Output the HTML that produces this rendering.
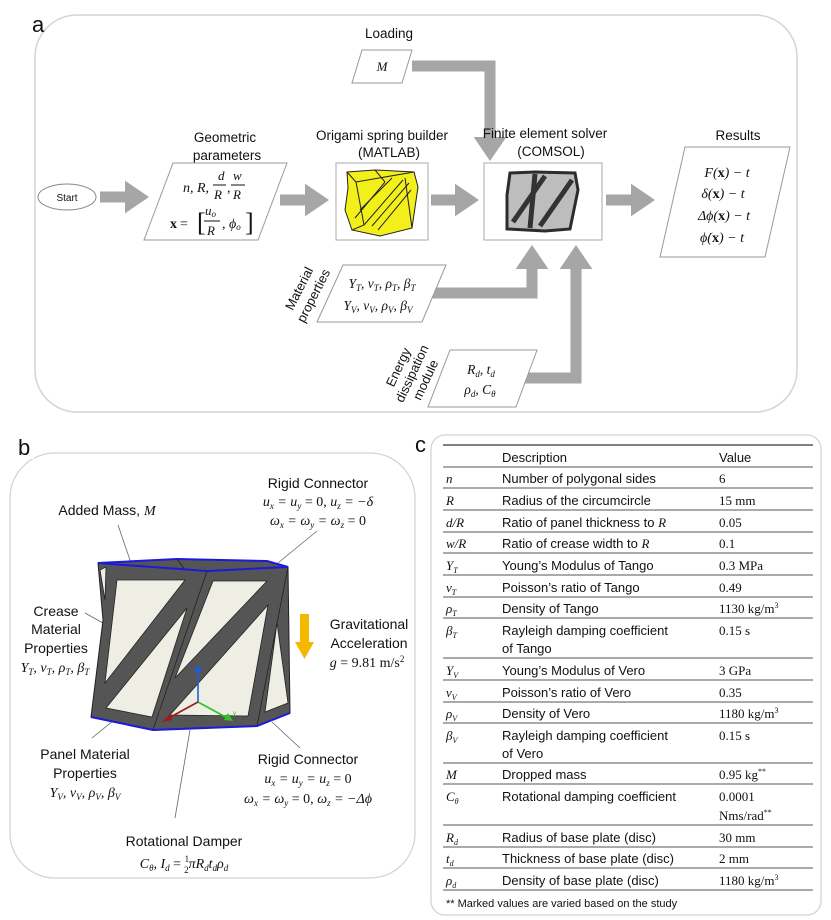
<!DOCTYPE html>
<html><head><meta charset="utf-8"><style>
html,body{margin:0;padding:0;background:#fff}
svg{display:block}
.s{font-family:"Liberation Sans",sans-serif;fill:#111}
.m{font-family:"Liberation Serif",serif;font-style:italic;fill:#111}
.r{font-family:"Liberation Serif",serif;fill:#111}
</style></head><body>
<svg width="831" height="920" viewBox="0 0 831 920" xmlns="http://www.w3.org/2000/svg">
<defs>
<marker id="ah" markerWidth="3" markerHeight="3" refX="1.2" refY="1.5" orient="auto" markerUnits="strokeWidth"><path d="M0,0 L2.2,1.5 L0,3 z" fill="#a6a6a6"/></marker>
</defs>
<!-- Panel a -->
<rect x="35" y="15" width="762" height="397" rx="42" fill="#fff" stroke="#d4d4d4" stroke-width="1.5"/>
<text x="32" y="32" class="s" font-size="22">a</text>
<g stroke="#a6a6a6" stroke-width="11" fill="none">
<line x1="100" y1="197" x2="138" y2="197" marker-end="url(#ah)"/>
<line x1="280" y1="200" x2="318" y2="200" marker-end="url(#ah)"/>
<line x1="431" y1="200" x2="468" y2="200" marker-end="url(#ah)"/>
<line x1="606" y1="200" x2="644" y2="200" marker-end="url(#ah)"/>
<polyline points="412,66 490,66 490,150" marker-end="url(#ah)"/>
<polyline points="424,293 532,293 532,256" marker-end="url(#ah)"/>
<polyline points="520,378 576,378 576,256" marker-end="url(#ah)"/>
</g>
<ellipse cx="67" cy="197" rx="29" ry="13" fill="#fff" stroke="#888"/>
<text x="67" y="201" class="s" font-size="10" text-anchor="middle">Start</text>
<!-- geometric -->
<text x="225" y="142" class="s" font-size="13.5" text-anchor="middle">Geometric</text>
<text x="227" y="160" class="s" font-size="13.5" text-anchor="middle">parameters</text>
<polygon points="173,163 287,163 258,240 144,240" fill="#fff" stroke="#999"/>
<text x="183" y="192" class="m" font-size="14">n, R,</text>
<text x="218" y="180" class="m" font-size="13">d</text><line x1="213" y1="185" x2="226" y2="185" stroke="#111"/><text x="214" y="199" class="m" font-size="13">R</text>
<text x="227" y="192" class="m" font-size="14">,</text>
<text x="233" y="180" class="m" font-size="13">w</text><line x1="231" y1="185" x2="245" y2="185" stroke="#111"/><text x="233" y="199" class="m" font-size="13">R</text>
<text x="170" y="228" class="r" font-size="14" font-weight="bold">x</text><text x="180" y="228" class="r" font-size="14">=</text>
<text x="197" y="231" class="r" font-size="26">[</text>
<text x="205" y="215" class="m" font-size="13">u<tspan font-size="9" dy="2">o</tspan></text>
<line x1="204" y1="221" x2="220" y2="221" stroke="#111"/><text x="207" y="235" class="m" font-size="13">R</text>
<text x="222" y="228" class="m" font-size="14">, ϕ<tspan font-size="9" dy="2">o</tspan></text>
<text x="245" y="231" class="r" font-size="26">]</text>
<!-- origami -->
<text x="382" y="140" class="s" font-size="13.5" text-anchor="middle">Origami spring builder</text>
<text x="389" y="157" class="s" font-size="13.5" text-anchor="middle">(MATLAB)</text>
<rect x="336" y="163" width="92" height="77" fill="#fff" stroke="#aaa"/>
<polygon points="347,172 375,170 414,172 418,187 412,228 380,236 352,230 345,210 348,188" fill="#f2ef1a" stroke="#222" stroke-width="1"/>
<g stroke="#222" stroke-width="1" fill="none">
<polyline points="347,172 356,182 364,225 352,230"/>
<line x1="356" y1="182" x2="414" y2="172"/><line x1="364" y1="225" x2="403" y2="180"/><line x1="372" y1="226" x2="409" y2="183"/>
<line x1="378" y1="230" x2="411" y2="190"/><line x1="355" y1="218" x2="385" y2="182"/><line x1="360" y1="210" x2="392" y2="178"/>
<line x1="375" y1="170" x2="385" y2="182"/><line x1="405" y1="178" x2="412" y2="228"/>
</g>
<!-- FE -->
<text x="545" y="138" class="s" font-size="13.5" text-anchor="middle">Finite element solver</text>
<text x="551" y="156" class="s" font-size="13.5" text-anchor="middle">(COMSOL)</text>
<rect x="484" y="163" width="118" height="77" fill="#fff" stroke="#aaa"/>
<polygon points="510,173 535,172 575,173 578,190 570,229 545,231 507,229 507,195" fill="#bdbdbd" stroke="#2c2c2c" stroke-width="3"/>
<g stroke="#333" stroke-width="5"><line x1="513" y1="222" x2="545" y2="176"/><line x1="540" y1="226" x2="572" y2="180"/><line x1="535" y1="174" x2="530" y2="228"/></g>
<!-- loading -->
<text x="389" y="38" class="s" font-size="13.5" text-anchor="middle">Loading</text>
<polygon points="362,50 412,50 402,83 352,83" fill="#fff" stroke="#999"/>
<text x="382" y="71" class="m" font-size="13" text-anchor="middle">M</text>
<!-- results -->
<text x="738" y="140" class="s" font-size="13.5" text-anchor="middle">Results</text>
<polygon points="685,147 790,147 765,257 660,257" fill="#fff" stroke="#999"/>
<g class="m" font-size="14" text-anchor="middle">
<text x="727" y="177">F(<tspan font-style="normal" font-weight="bold">x</tspan>) − t</text>
<text x="723" y="198">δ(<tspan font-style="normal" font-weight="bold">x</tspan>) − t</text>
<text x="724" y="220">Δϕ(<tspan font-style="normal" font-weight="bold">x</tspan>) − t</text>
<text x="722" y="242">ϕ̇(<tspan font-style="normal" font-weight="bold">x</tspan>) − t</text>
</g>
<!-- material -->
<polygon points="343,265 446,265 422,322 317,322" fill="#fff" stroke="#999"/>
<text x="382" y="288" class="m" font-size="13.5" text-anchor="middle">Y<tspan font-size="9" dy="3">T</tspan><tspan dy="-3">, ν</tspan><tspan font-size="9" dy="3">T</tspan><tspan dy="-3">, ρ</tspan><tspan font-size="9" dy="3">T</tspan><tspan dy="-3">, β</tspan><tspan font-size="9" dy="3">T</tspan></text>
<text x="378" y="310" class="m" font-size="13.5" text-anchor="middle">Y<tspan font-size="9" dy="3">V</tspan><tspan dy="-3">, ν</tspan><tspan font-size="9" dy="3">V</tspan><tspan dy="-3">, ρ</tspan><tspan font-size="9" dy="3">V</tspan><tspan dy="-3">, β</tspan><tspan font-size="9" dy="3">V</tspan></text>
<g transform="translate(312,295) rotate(-63)" class="s" font-size="13" text-anchor="middle"><text x="0" y="-10">Material</text><text x="0" y="6">properties</text></g>
<!-- energy -->
<polygon points="450,350 537,350 516,407 428,407" fill="#fff" stroke="#999"/>
<text x="481" y="374" class="m" font-size="13.5" text-anchor="middle">R<tspan font-size="9" dy="3">d</tspan><tspan dy="-3">, t</tspan><tspan font-size="9" dy="3">d</tspan></text>
<text x="480" y="394" class="m" font-size="13.5" text-anchor="middle">ρ<tspan font-size="9" dy="3">d</tspan><tspan dy="-3">, C</tspan><tspan font-size="9" dy="3">θ</tspan></text>
<g transform="translate(415,375) rotate(-65)" class="s" font-size="13" text-anchor="middle"><text x="0" y="-14">Energy</text><text x="0" y="1">dissipation</text><text x="0" y="16">module</text></g>

<!-- Panel b -->
<rect x="10" y="453" width="405" height="425" rx="45" fill="#fff" stroke="#d4d4d4" stroke-width="1.3"/>
<rect x="16" y="445" width="18" height="14" fill="#fff"/>
<text x="18" y="455" class="s" font-size="22">b</text>
<g stroke="#666" stroke-width="0.8">
<line x1="118" y1="525" x2="131" y2="563"/><line x1="317" y1="531" x2="278" y2="563"/>
<line x1="85" y1="613" x2="103" y2="623"/><line x1="92" y1="738" x2="135" y2="703"/>
<line x1="175" y1="818" x2="190" y2="730"/><line x1="300" y1="748" x2="272" y2="722"/>
</g>
<polygon points="98,563 177,559 267,561 288,567 290,713 257,726 153,730 91,717 103,620" fill="#555" stroke="#222"/>
<g fill="#eeeee4" stroke="#222" stroke-width="0.8">
<polygon points="117,580 185,580 105,683"/>
<polygon points="187,608 152,717 106,708"/>
<polygon points="213,581 267,581 175,678"/>
<polygon points="268,605 248,716 170,715"/>
<polygon points="277,623 288,703 265,712"/>
<polygon points="100,570 106,567 105,600"/>
</g>
<g stroke="#222" stroke-width="0.8" fill="none"><line x1="207" y1="571" x2="153" y2="730"/><line x1="288" y1="567" x2="257" y2="726"/><line x1="177" y1="559" x2="185" y2="570"/></g>
<polyline points="98,563 177,559 267,561 288,567 207,571 98,563" fill="none" stroke="#1a1adc" stroke-width="2"/>
<polyline points="91,717 153,730 257,726 290,713" fill="none" stroke="#1a1adc" stroke-width="2"/>
<g stroke-width="1.6"><line x1="198" y1="702" x2="198" y2="668" stroke="#1f5fcf"/><line x1="198" y1="702" x2="231" y2="720" stroke="#2bc42b"/><line x1="198" y1="702" x2="165" y2="720" stroke="#a01818"/></g>
<polygon points="198,664 194,672 202,672" fill="#1f5fcf"/><polygon points="233,721 224,720 228,713" fill="#2bc42b"/><polygon points="162,722 170,714 172,720" fill="#a01818"/>
<text x="188" y="666" font-size="6" fill="#1f5fcf" font-family="Liberation Sans">z</text><text x="233" y="715" font-size="6" fill="#2bc42b" font-family="Liberation Sans">y</text><text x="159" y="714" font-size="6" fill="#c33" font-family="Liberation Sans">x</text>
<rect x="300" y="614" width="9" height="30" fill="#f5b800"/><polygon points="295,642 314,642 304.5,659" fill="#f5b800"/>
<g class="s" font-size="14" text-anchor="middle">
<text x="107" y="515">Added Mass, <tspan font-family="Liberation Serif" font-style="italic">M</tspan></text>
<text x="318" y="488">Rigid Connector</text>
<text x="56" y="616">Crease</text><text x="56" y="634">Material</text><text x="56" y="653">Properties</text>
<text x="369" y="629">Gravitational</text><text x="369" y="648">Acceleration</text>
<text x="85" y="759">Panel Material</text><text x="85" y="778">Properties</text>
<text x="308" y="764">Rigid Connector</text>
<text x="184" y="846">Rotational Damper</text>
</g>
<g class="m" font-size="14" text-anchor="middle">
<text x="318" y="506">u<tspan font-size="9" dy="3">x</tspan><tspan dy="-3"> = u</tspan><tspan font-size="9" dy="3">y</tspan><tspan dy="-3" font-style="normal"> = 0, </tspan><tspan>u</tspan><tspan font-size="9" dy="3">z</tspan><tspan dy="-3"> = −δ</tspan></text>
<text x="318" y="525">ω<tspan font-size="9" dy="3">x</tspan><tspan dy="-3"> = ω</tspan><tspan font-size="9" dy="3">y</tspan><tspan dy="-3"> = ω</tspan><tspan font-size="9" dy="3">z</tspan><tspan dy="-3" font-style="normal"> = 0</tspan></text>
<text x="55" y="672">Y<tspan font-size="9" dy="3">T</tspan><tspan dy="-3">, ν</tspan><tspan font-size="9" dy="3">T</tspan><tspan dy="-3">, ρ</tspan><tspan font-size="9" dy="3">T</tspan><tspan dy="-3">, β</tspan><tspan font-size="9" dy="3">T</tspan></text>
<text x="367" y="667">g <tspan font-style="normal">= 9.81 m/s</tspan><tspan font-style="normal" font-size="9" dy="-5">2</tspan></text>
<text x="85" y="797">Y<tspan font-size="9" dy="3">V</tspan><tspan dy="-3">, ν</tspan><tspan font-size="9" dy="3">V</tspan><tspan dy="-3">, ρ</tspan><tspan font-size="9" dy="3">V</tspan><tspan dy="-3">, β</tspan><tspan font-size="9" dy="3">V</tspan></text>
<text x="308" y="783">u<tspan font-size="9" dy="3">x</tspan><tspan dy="-3"> = u</tspan><tspan font-size="9" dy="3">y</tspan><tspan dy="-3"> = u</tspan><tspan font-size="9" dy="3">z</tspan><tspan dy="-3" font-style="normal"> = 0</tspan></text>
<text x="308" y="803">ω<tspan font-size="9" dy="3">x</tspan><tspan dy="-3"> = ω</tspan><tspan font-size="9" dy="3">y</tspan><tspan dy="-3" font-style="normal"> = 0, </tspan><tspan>ω</tspan><tspan font-size="9" dy="3">z</tspan><tspan dy="-3"> = −Δϕ</tspan></text>
<text x="184" y="868">C<tspan font-size="9" dy="3">θ</tspan><tspan dy="-3">,  I</tspan><tspan font-size="9" dy="3">d</tspan><tspan dy="-3" font-style="normal"> = </tspan><tspan font-style="normal" font-size="9" dy="-6">1</tspan><tspan font-style="normal" font-size="9" dx="-5" dy="11">2</tspan><tspan dy="-5">πR</tspan><tspan font-size="9" dy="3">d</tspan><tspan dy="-3">t</tspan><tspan font-size="9" dy="3">d</tspan><tspan dy="-3">ρ</tspan><tspan font-size="9" dy="3">d</tspan></text>
</g>

<!-- Panel c -->
<text x="415" y="452" class="s" font-size="22">c</text>
<rect x="431" y="435" width="390" height="480" rx="14" fill="#fff" stroke="#d4d4d4" stroke-width="1.3"/>
<g stroke="#555">
<line x1="443" y1="445" x2="813" y2="445" stroke-width="1.5"/>
<line x1="443" y1="467" x2="813" y2="467"/><line x1="443" y1="488" x2="813" y2="488"/><line x1="443" y1="510" x2="813" y2="510"/>
<line x1="443" y1="532" x2="813" y2="532"/><line x1="443" y1="553" x2="813" y2="553"/><line x1="443" y1="575" x2="813" y2="575"/>
<line x1="443" y1="597" x2="813" y2="597"/><line x1="443" y1="618" x2="813" y2="618"/><line x1="443" y1="658" x2="813" y2="658"/>
<line x1="443" y1="680" x2="813" y2="680"/><line x1="443" y1="702" x2="813" y2="702"/><line x1="443" y1="723" x2="813" y2="723"/>
<line x1="443" y1="763" x2="813" y2="763"/><line x1="443" y1="784" x2="813" y2="784"/><line x1="443" y1="825" x2="813" y2="825"/>
<line x1="443" y1="847" x2="813" y2="847"/><line x1="443" y1="868" x2="813" y2="868"/><line x1="443" y1="890" x2="813" y2="890"/>
</g>
<g class="s" font-size="13">
<text x="502" y="462">Description</text><text x="719" y="462">Value</text>
<text x="502" y="483">Number of polygonal sides</text>
<text x="502" y="505">Radius of the circumcircle</text>
<text x="502" y="527">Ratio of panel thickness to <tspan font-family="Liberation Serif" font-style="italic">R</tspan></text>
<text x="502" y="548">Ratio of crease width to <tspan font-family="Liberation Serif" font-style="italic">R</tspan></text>
<text x="502" y="570">Young’s Modulus of Tango</text>
<text x="502" y="592">Poisson’s ratio of Tango</text>
<text x="502" y="613">Density of Tango</text>
<text x="502" y="635">Rayleigh damping coefficient</text><text x="502" y="653">of Tango</text>
<text x="502" y="675">Young’s Modulus of Vero</text>
<text x="502" y="697">Poisson’s ratio of Vero</text>
<text x="502" y="718">Density of Vero</text>
<text x="502" y="740">Rayleigh damping coefficient</text><text x="502" y="758">of Vero</text>
<text x="502" y="779">Dropped mass</text>
<text x="502" y="801">Rotational damping coefficient</text>
<text x="502" y="842">Radius of base plate (disc)</text>
<text x="502" y="863">Thickness of base plate (disc)</text>
<text x="502" y="885">Density of base plate (disc)</text>
<text x="446" y="907" font-size="11">** Marked values are varied based on the study</text>
</g>
<g class="r" font-size="13">
<text x="719" y="483">6</text><text x="719" y="505">15 mm</text><text x="719" y="527">0.05</text><text x="719" y="548">0.1</text>
<text x="719" y="570">0.3 MPa</text><text x="719" y="592">0.49</text><text x="719" y="613">1130 kg/m<tspan font-size="8" dy="-5">3</tspan></text>
<text x="719" y="635">0.15 s</text><text x="719" y="675">3 GPa</text><text x="719" y="697">0.35</text>
<text x="719" y="718">1180 kg/m<tspan font-size="8" dy="-5">3</tspan></text><text x="719" y="740">0.15 s</text>
<text x="719" y="779">0.95 kg<tspan font-size="8" dy="-5">**</tspan></text>
<text x="719" y="801">0.0001</text><text x="719" y="820">Nms/rad<tspan font-size="8" dy="-5">**</tspan></text>
<text x="719" y="842">30 mm</text><text x="719" y="863">2 mm</text><text x="719" y="885">1180 kg/m<tspan font-size="8" dy="-5">3</tspan></text>
</g>
<g class="m" font-size="13">
<text x="446" y="483">n</text><text x="446" y="505">R</text><text x="446" y="527">d/R</text><text x="446" y="548">w/R</text>
<text x="446" y="570">Y<tspan font-size="8" dy="3">T</tspan></text><text x="446" y="592">ν<tspan font-size="8" dy="3">T</tspan></text>
<text x="446" y="613">ρ<tspan font-size="8" dy="3">T</tspan></text><text x="446" y="635">β<tspan font-size="8" dy="3">T</tspan></text>
<text x="446" y="675">Y<tspan font-size="8" dy="3">V</tspan></text><text x="446" y="697">ν<tspan font-size="8" dy="3">V</tspan></text>
<text x="446" y="718">ρ<tspan font-size="8" dy="3">V</tspan></text><text x="446" y="740">β<tspan font-size="8" dy="3">V</tspan></text>
<text x="446" y="779">M</text><text x="446" y="801">C<tspan font-size="8" dy="3">θ</tspan></text>
<text x="446" y="842">R<tspan font-size="8" dy="3">d</tspan></text><text x="446" y="863">t<tspan font-size="8" dy="3">d</tspan></text>
<text x="446" y="885">ρ<tspan font-size="8" dy="3">d</tspan></text>
</g>
</svg>
</body></html>
